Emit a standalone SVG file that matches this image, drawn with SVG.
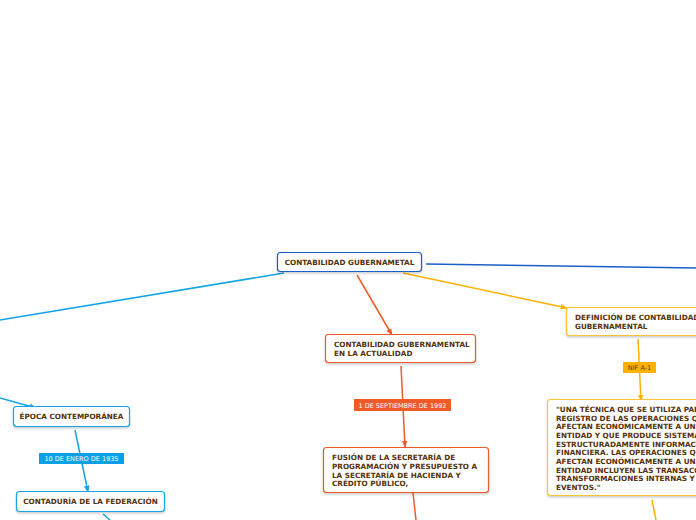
<svg xmlns="http://www.w3.org/2000/svg" width="696" height="520" viewBox="0 0 696 520">
<defs>
<marker id="aBlue" viewBox="0 0 10 10" refX="9" refY="5" markerWidth="7" markerHeight="7" orient="auto" markerUnits="userSpaceOnUse"><path d="M0,1 L10,5 L0,9 z" fill="#12a4e6"/></marker>
<marker id="aRed" viewBox="0 0 10 10" refX="9" refY="5" markerWidth="7" markerHeight="7" orient="auto" markerUnits="userSpaceOnUse"><path d="M0,1 L10,5 L0,9 z" fill="#f05a28"/></marker>
<marker id="aOr" viewBox="0 0 10 10" refX="9" refY="5" markerWidth="7" markerHeight="7" orient="auto" markerUnits="userSpaceOnUse"><path d="M0,1 L10,5 L0,9 z" fill="#ffb000"/></marker>
<filter id="sh" x="-10%" y="-10%" width="120%" height="140%"><feDropShadow dx="0" dy="1.5" stdDeviation="1" flood-color="#000" flood-opacity="0.2"/></filter>
</defs>
<style>
.t{font-family:"DejaVu Sans",Verdana,sans-serif;font-weight:bold;font-size:7.25px;fill:#553208}
.lb{font-family:"DejaVu Sans",Verdana,sans-serif;font-size:6.5px;fill:#fff}
.n{fill:#fff;stroke-width:1.2;filter:url(#sh)}
.blue{stroke:#12a4e6}
.red{stroke:#f05a28}
.or{stroke:#ffc233}
.c{fill:none;stroke-width:1.5}
</style>
<g id="connectors">
<line class="c" x1="284" y1="273" x2="0" y2="320" stroke="#12a4e6"/>
<line class="c" x1="426" y1="264" x2="696" y2="268" stroke="#1a5fc8"/>
<line class="c" x1="0" y1="398" x2="36" y2="408" stroke="#12a4e6" marker-end="url(#aBlue)"/>
<line class="c" x1="75" y1="430" x2="88" y2="492" stroke="#12a4e6" marker-end="url(#aBlue)"/>
<line class="c" x1="103" y1="514" x2="110" y2="520" stroke="#12a4e6"/>
<line class="c" x1="357" y1="275" x2="392" y2="335" stroke="#f05a28" marker-end="url(#aRed)"/>
<line class="c" x1="401" y1="366" x2="405" y2="447" stroke="#f05a28" marker-end="url(#aRed)"/>
<line class="c" x1="413" y1="493" x2="416" y2="520" stroke="#f05a28"/>
<line class="c" x1="403" y1="273" x2="567" y2="308" stroke="#ffb000" marker-end="url(#aOr)"/>
<line class="c" x1="638" y1="339" x2="641" y2="401" stroke="#ffb000" marker-end="url(#aOr)"/>
<line class="c" x1="652" y1="500" x2="656" y2="520" stroke="#ffb000"/>
<rect x="39" y="453" width="85" height="11" fill="#0aa0e6"/>
<text class="lb" x="81.5" y="461" text-anchor="middle">10 DE ENERO DE 1935</text>
<rect x="354" y="399" width="97" height="12" fill="#f05a28"/>
<text class="lb" x="402.5" y="407.5" text-anchor="middle">1 DE SEPTIEMBRE DE 1992</text>
<rect x="623" y="362" width="33" height="11" fill="#ffb000"/>
<text class="lb" x="639.5" y="370" text-anchor="middle" style="fill:#5a3a00">NIF A-1</text>
</g>
<g id="root">
<rect class="n" x="277.5" y="252.5" width="144" height="19" rx="3" stroke="#1a5fc8"/>
<text class="t" x="349.5" y="264.5" text-anchor="middle">CONTABILIDAD GUBERNAMETAL</text>
</g>
<g id="epoca">
<rect class="n blue" x="13.5" y="406.5" width="116" height="20" rx="3"/>
<text class="t" x="71.5" y="419" text-anchor="middle">ÉPOCA CONTEMPORÁNEA</text>
</g>
<g id="contaduria">
<rect class="n blue" x="16.5" y="491.5" width="148" height="20" rx="3"/>
<text class="t" x="90.5" y="504" text-anchor="middle">CONTADURÍA DE LA FEDERACIÓN</text>
</g>
<g id="actualidad">
<rect class="n red" x="325.5" y="334.5" width="150" height="28" rx="3"/>
<text class="t" x="334" y="347">CONTABILIDAD GUBERNAMENTAL</text>
<text class="t" x="334" y="355.5">EN LA ACTUALIDAD</text>
</g>
<g id="fusion">
<rect class="n red" x="323.5" y="447.5" width="165" height="45" rx="3"/>
<text class="t" x="332" y="460">FUSIÓN DE LA SECRETARÍA DE</text>
<text class="t" x="332" y="468.8">PROGRAMACIÓN Y PRESUPUESTO A</text>
<text class="t" x="332" y="477.6">LA SECRETARÍA DE HACIENDA Y</text>
<text class="t" x="332" y="486.4">CRÉDITO PÚBLICO,</text>
</g>
<g id="definicion">
<rect class="n or" x="566.5" y="307.5" width="140" height="28" rx="3"/>
<text class="t" x="575" y="320">DEFINICIÓN DE CONTABILIDAD</text>
<text class="t" x="575" y="328.5">GUBERNAMENTAL</text>
</g>
<g id="cita">
<rect class="n or" x="547.5" y="399.5" width="170" height="96" rx="3"/>
<text class="t" x="556" y="412">"UNA TÉCNICA QUE SE UTILIZA PARA EL</text>
<text class="t" x="556" y="420.7">REGISTRO DE LAS OPERACIONES QUE</text>
<text class="t" x="556" y="429.3">AFECTAN ECONÓMICAMENTE A UNA</text>
<text class="t" x="556" y="438">ENTIDAD Y QUE PRODUCE SISTEMÁTICA Y</text>
<text class="t" x="556" y="446.6">ESTRUCTURADAMENTE INFORMACIÓN</text>
<text class="t" x="556" y="455.3">FINANCIERA. LAS OPERACIONES QUE</text>
<text class="t" x="556" y="464">AFECTAN ECONÓMICAMENTE A UNA</text>
<text class="t" x="556" y="472.6">ENTIDAD INCLUYEN LAS TRANSACCIONES,</text>
<text class="t" x="556" y="481.3">TRANSFORMACIONES INTERNAS Y OTROS</text>
<text class="t" x="556" y="490">EVENTOS."</text>
</g>
</svg>
